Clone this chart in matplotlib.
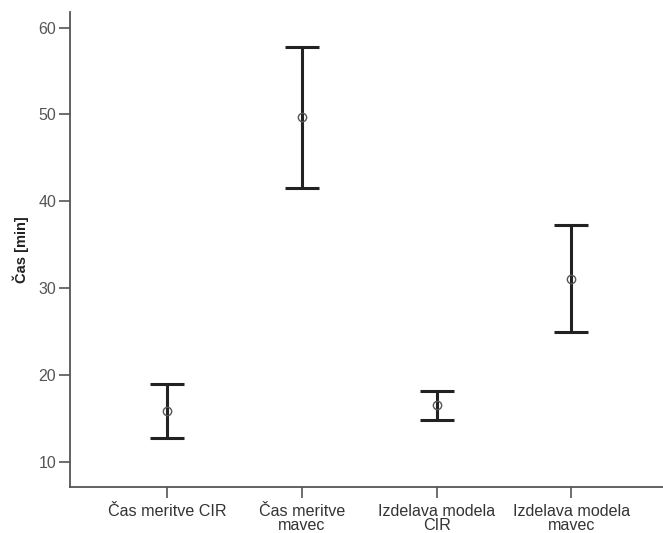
import numpy as np
import matplotlib.pyplot as plt

categories = ["Čas meritve CIR", "Čas meritve\nmavec", "Izdelava modela\nCIR", "Izdelava modela\nmavec"]
means = [15.9, 49.7, 16.5, 31.1]
lower = [12.8, 41.5, 14.8, 25.0]
upper = [19.0, 57.8, 18.2, 37.3]

plt.rcParams['font.family'] = ['Liberation Sans', 'DejaVu Sans']

fig = plt.figure(figsize=(6.63, 5.33), dpi=100)
ax = fig.add_axes([70/663, 46/533, 593/663, 475/533])

x = np.arange(len(categories))
means_arr = np.array(means)
yerr = [means_arr - np.array(lower), np.array(upper) - means_arr]

ax.errorbar(x, means, yerr=yerr, fmt='none', ecolor='#222222', elinewidth=2.2,
            capsize=12.2, capthick=2.2)
ax.plot(x, means, 'o', markersize=6, markerfacecolor='none',
        markeredgecolor='#555555', markeredgewidth=1.0)

ax.set_xlim(-0.72, 3.68)
ax.set_ylim(7.1, 61.8)
ax.set_yticks([10, 20, 30, 40, 50, 60])
ax.set_xticks(x)
ax.set_xticklabels(categories, fontsize=11.6, color='#333333', linespacing=0.95)
ax.tick_params(axis='y', labelsize=11.5, colors='#555555', length=8, width=1.2, pad=2)
ax.tick_params(axis='x', length=8, width=1.2, color='#555555', pad=4)
for t in ax.get_yticklabels():
    t.set_color('#555555')

ax.set_ylabel("Čas [min]", fontsize=10.5, fontweight='bold', color='#222222', labelpad=7)

for s in ['top', 'right']:
    ax.spines[s].set_visible(False)
for s in ['left', 'bottom']:
    ax.spines[s].set_color('#555555')
    ax.spines[s].set_linewidth(1.3)

fig.savefig("out.png", dpi=100)
